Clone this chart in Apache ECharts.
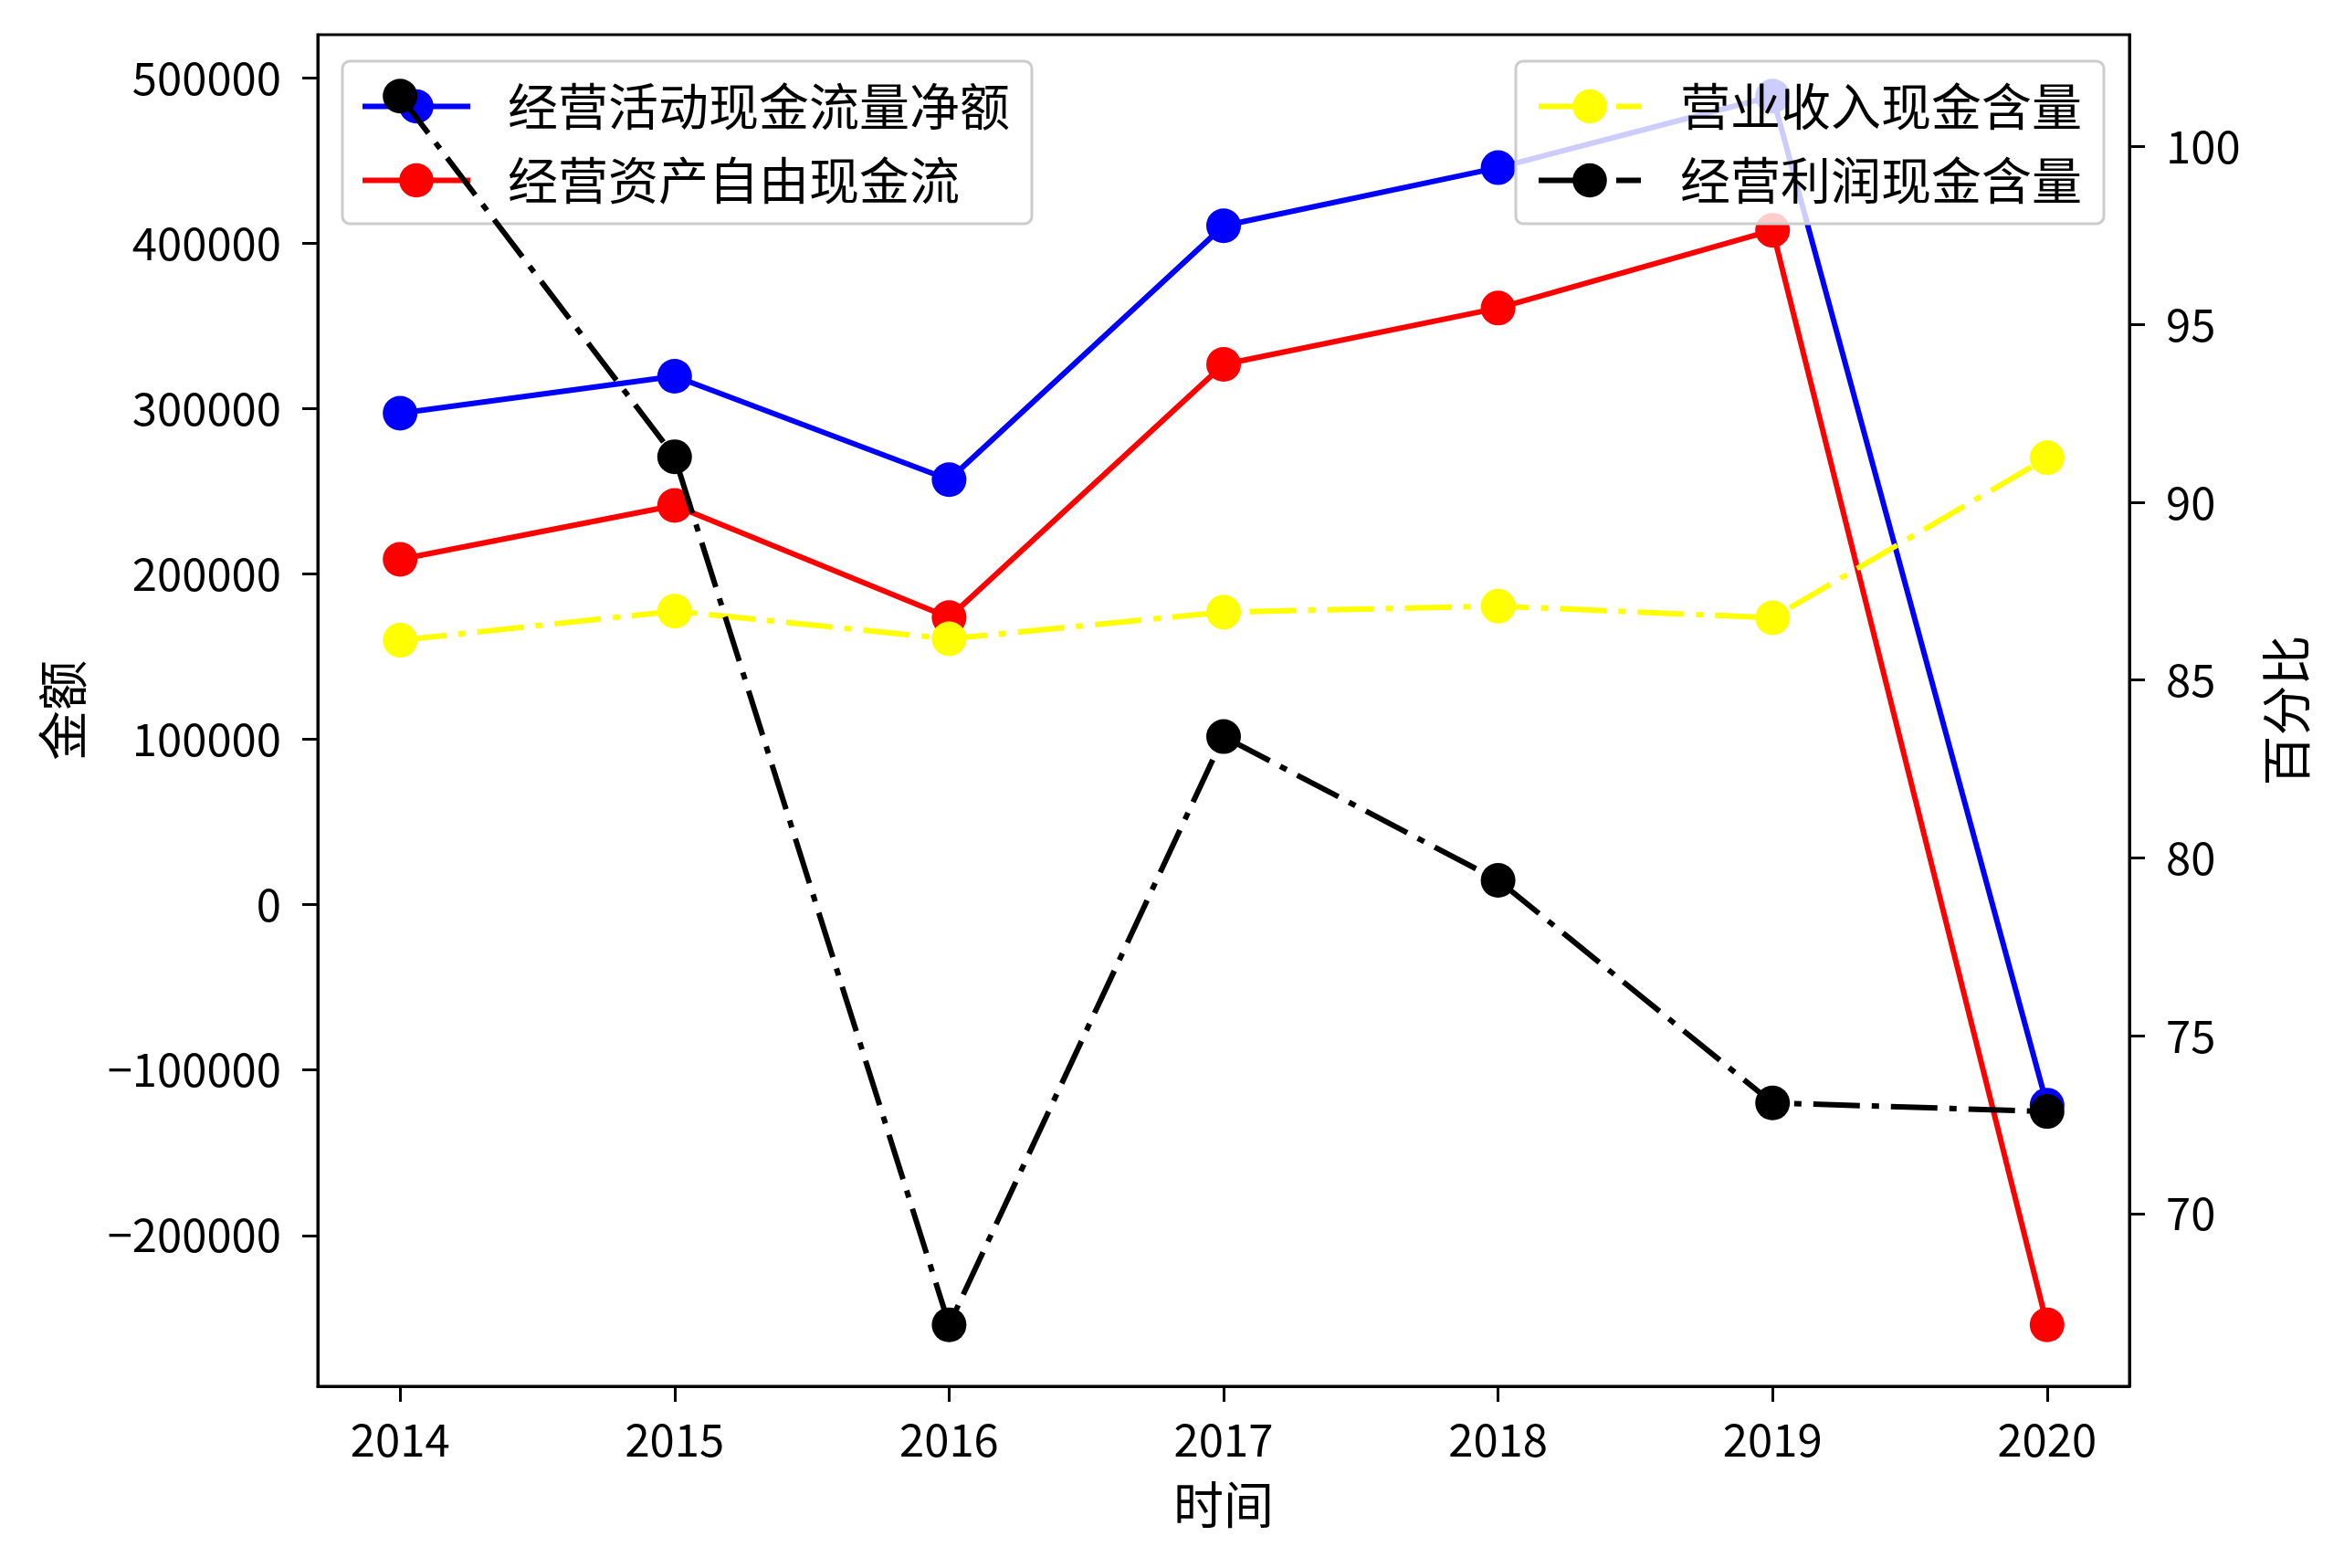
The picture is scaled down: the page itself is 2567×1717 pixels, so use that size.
<!DOCTYPE html>
<html>
<head>
<meta charset="utf-8">
<script src="https://cdn.jsdelivr.net/npm/echarts@6/dist/echarts.min.js"></script>
<style>
html,body{margin:0;padding:0;background:#fff;}
#chart{width:2567px;height:1717px;}
</style>
</head>
<body>
<div id="chart"></div>
<script>
// ---- data ----
const years = [2014, 2015, 2016, 2017, 2018, 2019, 2020];
const opCashFlowNet = [297230, 319650, 257080, 410610, 445790, 489040, -121220];      // 经营活动现金流量净额
const opFreeCashFlow = [208870, 241450, 173690, 326830, 360850, 407910, -254100];     // 经营资产自由现金流
const revenueCashRatio = [86.12, 86.94, 86.16, 86.91, 87.08, 86.75, 91.25];           // 营业收入现金含量
const profitCashRatio = [101.42, 91.28, 66.87, 83.41, 79.37, 73.11, 72.87];           // 经营利润现金含量
const leftTicks = [-200000, -100000, 0, 100000, 200000, 300000, 400000, 500000];
const rightTicks = [70, 75, 80, 85, 90, 95, 100];
const xTicks = years;

const names = ['经营活动现金流量净额', '经营资产自由现金流', '营业收入现金含量', '经营利润现金含量'];

function padded(arrs) {
  const all = [].concat(...arrs);
  const mn = Math.min(...all), mx = Math.max(...all);
  const r = mx - mn;
  return [mn - 0.05 * r, mx + 0.05 * r];
}
const leftRange = padded([opCashFlowNet, opFreeCashFlow]);
const rightRange = padded([revenueCashRatio, profitCashRatio]);
const xr = years[years.length - 1] - years[0];
const xRange = [years[0] - 0.05 * xr, years[years.length - 1] + 0.05 * xr];

const pair = arr => years.map((y, i) => [y, arr[i]]);
const FONT = 'Noto Sans CJK SC';
const dashDot = [51, 13, 8, 13];
const minus = v => (v < 0 ? '\u2212' + Math.abs(v) : String(v));

const chart = echarts.init(document.getElementById('chart'), null, {renderer: 'canvas'});

function mkSeries(name, arr, color, yIdx, dashed, z) {
  return {
    name: name,
    type: 'line',
    yAxisIndex: yIdx,
    data: pair(arr),
    symbol: 'circle',
    symbolSize: 38,
    showSymbol: true,
    z: z,
    lineStyle: {color: color, width: 6, type: dashed ? dashDot : 'solid', cap: 'butt'},
    itemStyle: {color: color},
    emphasis: {disabled: true},
    silent: true
  };
}

const legendCommon = {
  orient: 'vertical',
  top: 67,
  itemWidth: 118,
  itemHeight: 47,
  itemGap: 26,
  backgroundColor: 'rgba(255,255,255,0.8)',
  borderColor: '#cccccc',
  borderWidth: 3,
  borderRadius: 8,
  selectedMode: false,
  lineStyle: {width: 6},
  textStyle: {fontFamily: FONT, fontSize: 55, lineHeight: 55, color: '#000', padding: [0, 0, 0, 36]}
};

chart.setOption({
  animation: false,
  backgroundColor: '#fff',
  grid: {left: 348, right: 235, top: 38, bottom: 199, show: true, borderColor: '#000', borderWidth: 3, backgroundColor: 'transparent'},
  legend: [
    Object.assign({}, legendCommon, {
      data: [names[0], names[1]],
      left: 375,
      z: 3,
      padding: [22, 24, 20, 19]
    }),
    Object.assign({}, legendCommon, {
      data: [names[2], names[3]],
      left: 1660,
      z: 6,
      itemWidth: 112,
      lineStyle: {width: 6, type: dashDot},
      textStyle: Object.assign({}, legendCommon.textStyle, {padding: [0, 0, 0, 38]}),
      padding: [22, 24, 20, 22]
    })
  ],
  xAxis: {
    type: 'value',
    min: xRange[0],
    max: xRange[1],
    name: '时间',
    nameLocation: 'middle',
    nameGap: 102,
    nameTextStyle: {fontFamily: FONT, fontSize: 55, color: '#000'},
    splitLine: {show: false},
    axisLine: {onZero: false, lineStyle: {color: '#000', width: 3}},
    axisTick: {show: true, length: 17, lineStyle: {color: '#000', width: 3}, customValues: xTicks},
    axisLabel: {customValues: xTicks, formatter: v => String(v), fontFamily: FONT, fontSize: 49, color: '#000', margin: 34}
  },
  yAxis: [
    {
      type: 'value',
      position: 'left',
      min: leftRange[0],
      max: leftRange[1],
      name: '金额',
      nameLocation: 'middle',
      nameRotate: 90,
      nameGap: 252,
      nameTextStyle: {fontFamily: FONT, fontSize: 55, color: '#000'},
      splitLine: {show: false},
      axisLine: {show: true, onZero: false, lineStyle: {color: '#000', width: 3}},
      axisTick: {show: true, length: 17, lineStyle: {color: '#000', width: 3}, customValues: leftTicks},
      axisLabel: {customValues: leftTicks, formatter: minus, fontFamily: FONT, fontSize: 49, color: '#000', margin: 40}
    },
    {
      type: 'value',
      position: 'right',
      min: rightRange[0],
      max: rightRange[1],
      name: '百分比',
      nameLocation: 'middle',
      nameRotate: 90,
      nameGap: 144,
      nameTextStyle: {fontFamily: FONT, fontSize: 55, color: '#000'},
      splitLine: {show: false},
      axisLine: {show: true, onZero: false, lineStyle: {color: '#000', width: 3}},
      axisTick: {show: true, length: 17, lineStyle: {color: '#000', width: 3}, customValues: rightTicks},
      axisLabel: {customValues: rightTicks, formatter: v => String(v), fontFamily: FONT, fontSize: 49, color: '#000', margin: 40}
    }
  ],
  series: [
    mkSeries(names[0], opCashFlowNet, '#0000ff', 0, false, 2),
    mkSeries(names[1], opFreeCashFlow, '#ff0000', 0, false, 2),
    mkSeries(names[2], revenueCashRatio, '#ffff00', 1, true, 4),
    mkSeries(names[3], profitCashRatio, '#000000', 1, true, 4)
  ]
});
</script>
</body>
</html>
